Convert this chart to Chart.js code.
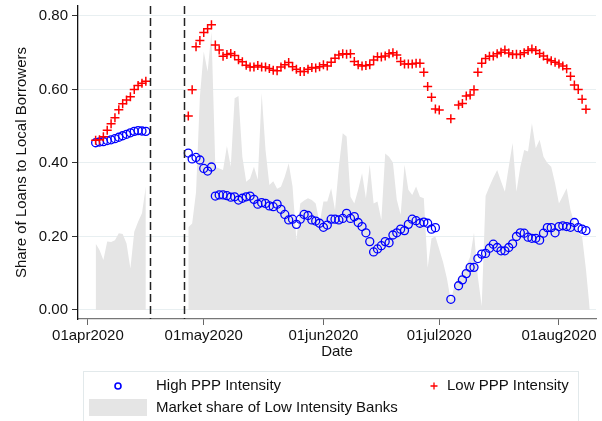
<!DOCTYPE html>
<html>
<head>
<meta charset="utf-8">
<title>Share of Loans to Local Borrowers</title>
<script src="https://cdn.jsdelivr.net/npm/chart.js@4.4.1/dist/chart.umd.min.js"></script>
<style>
    html, body { margin: 0; padding: 0; background: #fff; }
    #chart { display: block; }
</style>
</head>
<body>
<canvas id="chart" width="602" height="421"></canvas>
<script>
// One value per day, starting 03apr2020 (day 2 counted from 01apr2020)
const firstDay = 2;

const highPPP = [
    0.455, 0.457, 0.458, 0.461, 0.463, 0.466, 0.470, 0.474, 0.478, 0.482, 0.486, 0.488, 0.487, 0.486,
    null, null, null, null, null, null, null, null, null, null,
    0.427, 0.411, 0.415, 0.408, 0.385, 0.378, 0.389,
    0.310, 0.313, 0.313, 0.311, 0.307, 0.308, 0.299, 0.304, 0.308, 0.310, 0.301, 0.288, 0.292, 0.290,
    0.283, 0.281, 0.288, 0.274, 0.260, 0.245, 0.247, 0.233, 0.247, 0.260, 0.257, 0.245, 0.242, 0.236,
    0.225, 0.231, 0.247, 0.247, 0.245, 0.249, 0.263, 0.249, 0.254, 0.238, 0.227, 0.210, 0.186,
    0.158, 0.166, 0.175, 0.186, 0.183, 0.204,
    0.210, 0.220, 0.216, 0.233, 0.247, 0.243, 0.236, 0.239, 0.236, 0.220, 0.224,
    null, null, null,
    0.029,
    null,
    0.066, 0.082, 0.099, 0.116, 0.116, 0.140, 0.152, 0.154, 0.168, 0.179, 0.170, 0.161, 0.161, 0.170,
    0.180, 0.200, 0.210, 0.209, 0.198, 0.195, 0.195, 0.190, 0.209, 0.224, 0.224, 0.210, 0.227, 0.229,
    0.227, 0.225, 0.238, 0.224, 0.220, 0.216
];

const lowPPP = [
    0.462, 0.463, 0.471, 0.489, 0.507, 0.523, 0.545, 0.561, 0.571, 0.580, 0.600, 0.611, 0.617, 0.622,
    null, null, null, null, null, null, null, null, null, null,
    0.528, 0.599, 0.716, 0.733, 0.755, 0.765, 0.776, 0.721, 0.707, 0.690, 0.695, 0.698, 0.692, 0.681,
    0.675, 0.666, 0.661, 0.661, 0.665, 0.661, 0.661, 0.657, 0.652, 0.651, 0.661,
    0.667, 0.673, 0.662, 0.655, 0.649, 0.649, 0.655, 0.660, 0.658, 0.662, 0.667, 0.664, 0.674, 0.685,
    0.694, 0.697, 0.696, 0.697, 0.676, 0.667, 0.664, 0.665, 0.667, 0.680, 0.689, 0.688, 0.691, 0.697,
    0.700, 0.694, 0.676, 0.669, 0.669, 0.669, 0.671, 0.671, 0.647, 0.608, 0.579, 0.547, 0.544,
    null, null,
    0.520,
    null,
    0.558, 0.562, 0.582, 0.585, 0.599, 0.647, 0.671, 0.684, 0.690,
    0.691, 0.697, 0.701, 0.707, 0.699, 0.695, 0.696, 0.695, 0.700, 0.706, 0.710, 0.706, 0.698, 0.691,
    0.682, 0.678, 0.674, 0.669, 0.664, 0.656, 0.636, 0.612, 0.600, 0.573, 0.546
];

const marketShare = [
    0.181, 0.163, 0.136, 0.186, 0.185, 0.190, 0.209, 0.207, 0.181, 0.113, 0.213, 0.240, 0.263, 0.336,
    null, null, null, null, null, null, null, null, null, null,
    0.225, 0.235, 0.320, 0.580, 0.703, 0.649, 0.757, 0.390, 0.385, 0.381, 0.446, 0.390, 0.576, 0.582,
    0.417, 0.349, 0.358, 0.390, 0.354, 0.590, 0.435, 0.340, 0.350, 0.330, 0.335,
    0.363, 0.399, 0.336, 0.190, 0.290, 0.298, 0.304, 0.299, 0.290, 0.236, 0.295, 0.295, 0.331, 0.272,
    0.390, 0.481, 0.472, 0.308, 0.290, 0.327, 0.372, 0.304, 0.395, 0.290, 0.295, 0.245, 0.426, 0.417,
    0.401, 0.300, 0.259, 0.395, 0.327, 0.313, 0.336, 0.308, 0.304, 0.115, 0.195, 0.200,
    0.165, 0.130, 0.085, 0.025, 0.070, 0.090, 0.105, 0.120, 0.145, 0.210, 0.090, 0.010,
    0.310, 0.336, 0.360, 0.381, 0.350, 0.322, 0.390, 0.454, 0.322, 0.390, 0.435, 0.431, 0.508, 0.440,
    0.463, 0.417, 0.400, 0.390, 0.345, 0.290, 0.310, 0.331, 0.272, 0.235, 0.210, 0.200, 0.110, 0.000
];

const tickDays = [0, 30, 61, 91, 122];
const tickLabels = ['01apr2020', '01may2020', '01jun2020', '01jul2020', '01aug2020'];
const yTicks = [0, 0.2, 0.4, 0.6, 0.8];
const policyDays = [16, 25];

const FONT = "'Liberation Sans', Arial, Helvetica, sans-serif";
const BLUE = '#0000ff';
const RED = '#ff0000';
const AREA = '#e5e5e5';

function toPoints(values) {
    return values.map((v, i) => ({ x: firstDay + i, y: v }));
}

// Vertical dashed lines at the policy dates
const policyLines = {
    id: 'policyLines',
    afterDatasetsDraw(chart) {
        const { ctx, chartArea, scales } = chart;
        ctx.save();
        ctx.strokeStyle = '#222';
        ctx.lineWidth = 1.5;
        ctx.setLineDash([8, 4]);
        policyDays.forEach(day => {
            const x = Math.round(scales.x.getPixelForValue(day)) + 0.5;
            ctx.beginPath();
            ctx.moveTo(x, chartArea.top);
            ctx.lineTo(x, chartArea.bottom);
            ctx.stroke();
        });
        ctx.restore();
    }
};

// Boxed legend under the axis, laid out like the original
const boxLegend = {
    id: 'boxLegend',
    afterDraw(chart) {
        const ctx = chart.ctx;
        const sets = chart.data.datasets;
        ctx.save();
        ctx.strokeStyle = '#e2e9eb';
        ctx.lineWidth = 1;
        ctx.strokeRect(83.5, 371.5, 495, 60);

        ctx.font = '15px ' + FONT;
        ctx.fillStyle = '#111';
        ctx.textBaseline = 'middle';
        ctx.textAlign = 'left';

        // High PPP
        ctx.strokeStyle = BLUE;
        ctx.lineWidth = 1.6;
        ctx.beginPath();
        ctx.arc(118, 386, 3, 0, Math.PI * 2);
        ctx.stroke();
        ctx.fillText(sets[1].label, 156, 386);

        // Low PPP
        ctx.strokeStyle = RED;
        ctx.lineWidth = 1.3;
        ctx.beginPath();
        ctx.moveTo(430.5, 386); ctx.lineTo(437.5, 386);
        ctx.moveTo(434, 382.5); ctx.lineTo(434, 389.5);
        ctx.stroke();
        ctx.fillText(sets[2].label, 447, 386);

        // Market share
        ctx.fillStyle = AREA;
        ctx.fillRect(89, 399, 58, 17);
        ctx.fillStyle = '#111';
        ctx.fillText(sets[0].label, 156, 408);
        ctx.restore();
    }
};

Chart.defaults.font.family = FONT;
Chart.defaults.font.size = 15;
Chart.defaults.color = '#111';

new Chart(document.getElementById('chart'), {
    type: 'line',
    data: {
        datasets: [{
            label: 'Market share of Low Intensity Banks',
            data: toPoints(marketShare),
            backgroundColor: AREA,
            borderWidth: 0,
            borderColor: 'rgba(0,0,0,0)',
            fill: 'origin',
            pointRadius: 0,
            tension: 0,
            spanGaps: false,
            order: 3
        }, {
            label: 'High PPP Intensity',
            data: toPoints(highPPP),
            showLine: false,
            pointStyle: 'circle',
            pointRadius: 4,
            pointBorderWidth: 1.3,
            pointBorderColor: BLUE,
            pointBackgroundColor: 'rgba(0,0,0,0)',
            order: 2
        }, {
            label: 'Low PPP Intensity',
            data: toPoints(lowPPP),
            showLine: false,
            pointStyle: 'cross',
            pointRadius: 4.5,
            pointBorderWidth: 1.5,
            pointBorderColor: RED,
            pointBackgroundColor: RED,
            order: 1
        }]
    },
    options: {
        responsive: false,
        animation: false,
        devicePixelRatio: 1,
        layout: {
            padding: { top: 6, right: 2, left: 0, bottom: 0 }
        },
        plugins: {
            legend: { display: false },
            tooltip: { enabled: false }
        },
        scales: {
            x: {
                type: 'linear',
                min: -2.57,
                max: 131.6,
                afterBuildTicks: scale => {
                    scale.ticks = tickDays.map(d => ({ value: d }));
                },
                afterFit: scale => {
                    scale.height = 102;
                    scale.paddingLeft = 0;
                    scale.paddingRight = 0;
                },
                ticks: {
                    padding: 2,
                    maxRotation: 0,
                    autoSkip: false,
                    callback: value => tickLabels[tickDays.indexOf(value)]
                },
                grid: {
                    drawOnChartArea: false,
                    tickLength: 6,
                    color: '#666'
                },
                border: { color: '#777', width: 1.2 },
                title: {
                    display: true,
                    text: 'Date',
                    padding: { top: 0, bottom: 60 }
                }
            },
            y: {
                min: -0.0245,
                max: 0.827,
                afterBuildTicks: scale => {
                    scale.ticks = yTicks.map(v => ({ value: v }));
                },
                afterFit: scale => {
                    scale.width = 78;
                    scale.paddingTop = 0;
                    scale.paddingBottom = 0;
                },
                ticks: {
                    padding: 4,
                    callback: value => value.toFixed(2)
                },
                grid: {
                    color: '#e8eff1',
                    tickColor: '#333',
                    tickLength: 6
                },
                border: { color: '#111', width: 1.3 },
                title: {
                    display: true,
                    text: 'Share of Loans to Local Borrowers',
                    padding: { top: 13, bottom: 0 }
                }
            }
        }
    },
    plugins: [policyLines, boxLegend]
});
</script>
</body>
</html>
